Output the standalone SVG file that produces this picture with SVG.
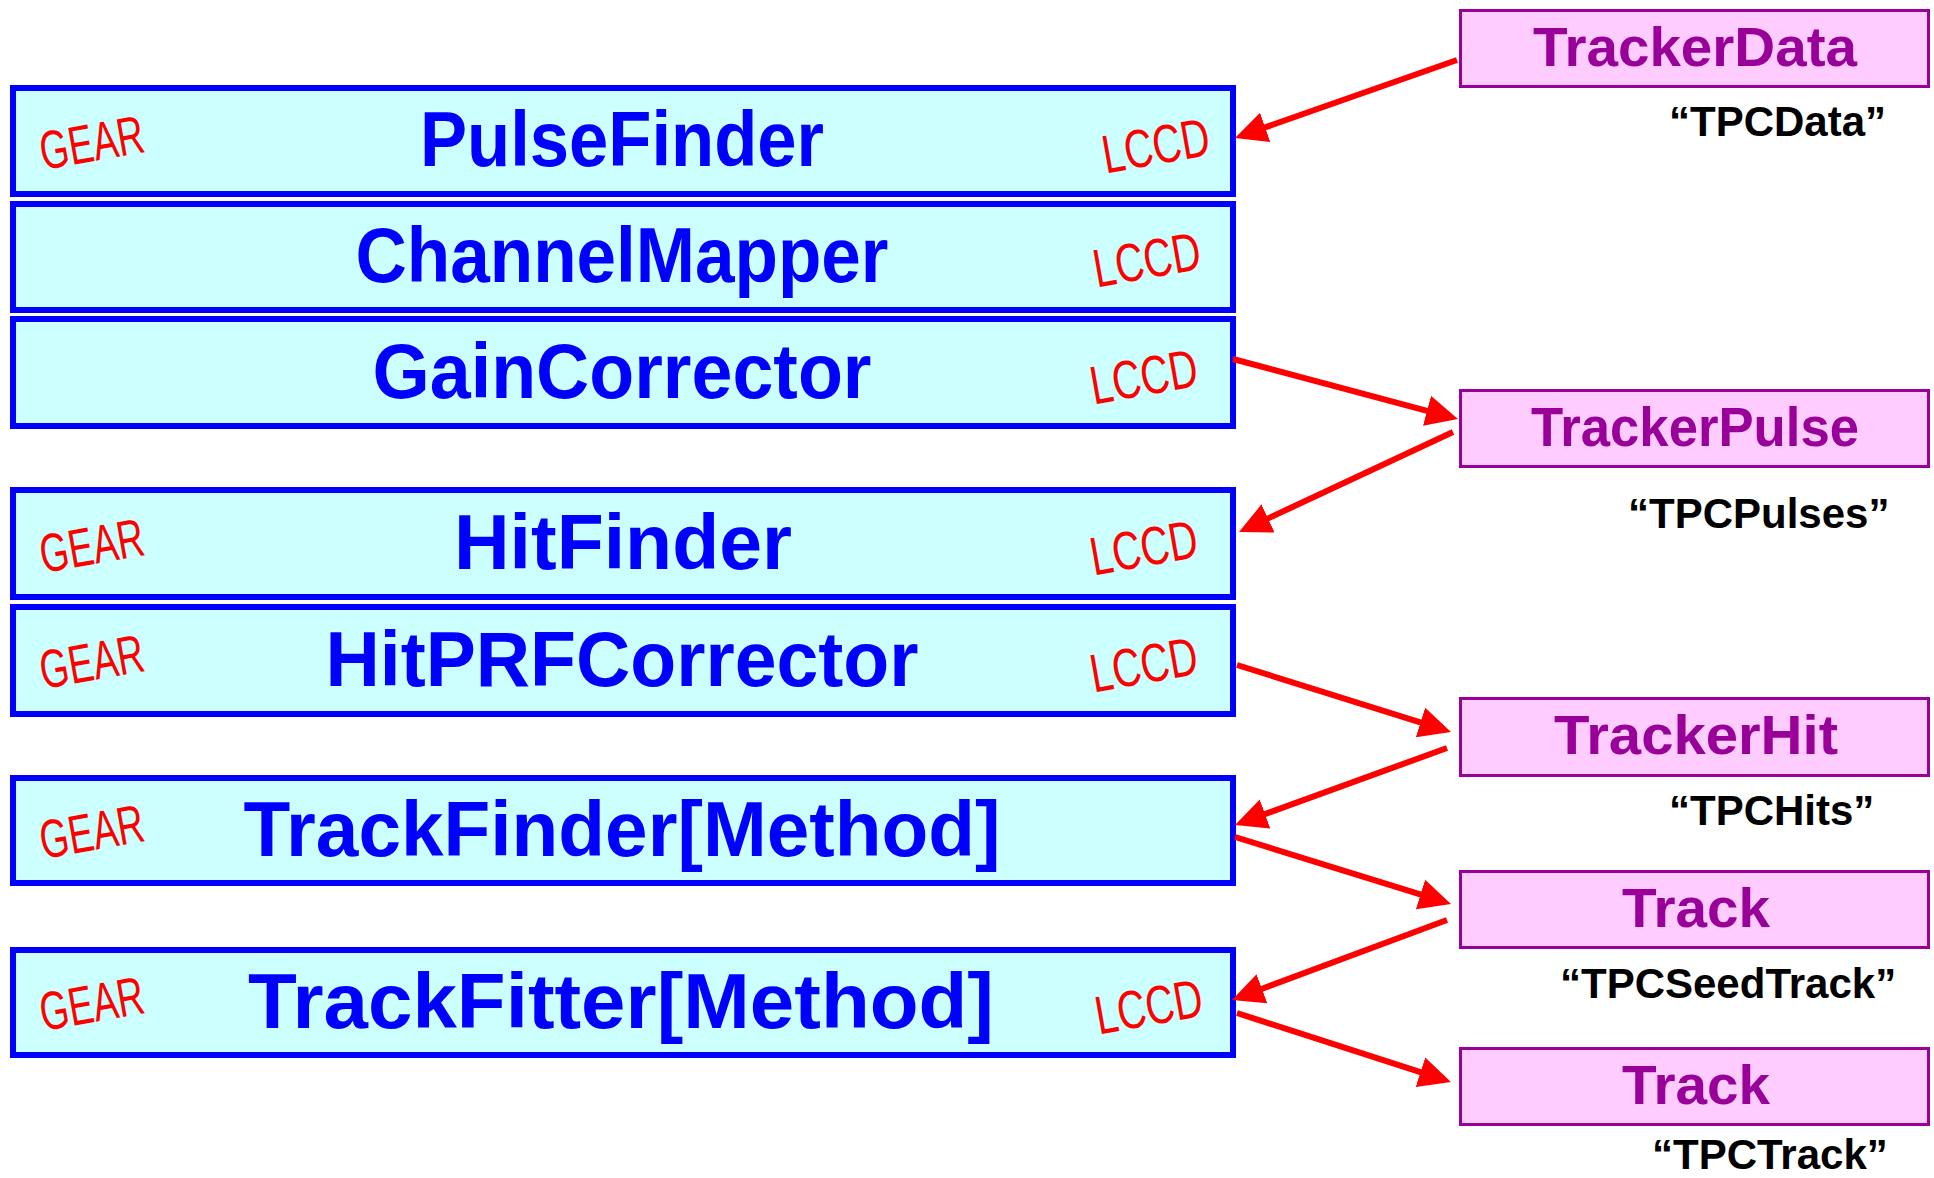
<svg xmlns="http://www.w3.org/2000/svg" width="1934" height="1178" viewBox="0 0 1934 1178">
  <defs>
    <style>
      .proc rect { fill: #CCFFFF; stroke: #0000FF; stroke-width: 6; }
      .proc .title { font-family: "Liberation Sans", Arial, sans-serif; font-weight: bold; font-size: 78px; fill: #0000FF; text-anchor: middle; }
      .tag { font-family: "Liberation Sans", Arial, sans-serif; font-size: 54px; fill: #FF0000; text-anchor: middle; }
      .coll rect { fill: #FFCCFF; stroke: #990099; stroke-width: 3; }
      .coll .title { font-family: "Liberation Sans", Arial, sans-serif; font-weight: bold; font-size: 56px; fill: #990099; text-anchor: middle; }
      .coll .name { font-family: "Liberation Sans", Arial, sans-serif; font-weight: bold; font-size: 42px; fill: #000000; }
      .flow line { stroke: #FF0000; stroke-width: 6; fill: none; marker-end: url(#head); }
    </style>
    <marker id="head" markerUnits="userSpaceOnUse" markerWidth="34" markerHeight="32" refX="4" refY="15.5" orient="auto">
      <path d="M0,0 L32,15.5 L0,31 Z" fill="#FF0000"/>
    </marker>
  </defs>

  <!-- processors -->
  <g id="pulse-finder" class="proc">
    <rect x="13" y="88" width="1220" height="106"/>
    <text class="title" x="622" y="166" textLength="404" lengthAdjust="spacingAndGlyphs">PulseFinder</text>
    <text class="tag" x="95" y="161" textLength="105" lengthAdjust="spacingAndGlyphs" transform="rotate(-10 95 161)">GEAR</text>
    <text class="tag" x="1159" y="164" textLength="108" lengthAdjust="spacingAndGlyphs" transform="rotate(-10 1159 164)">LCCD</text>
  </g>
  <g id="channel-mapper" class="proc">
    <rect x="13" y="204" width="1220" height="106"/>
    <text class="title" x="622" y="282" textLength="533" lengthAdjust="spacingAndGlyphs">ChannelMapper</text>
    <text class="tag" x="1150" y="278" textLength="108" lengthAdjust="spacingAndGlyphs" transform="rotate(-10 1150 278)">LCCD</text>
  </g>
  <g id="gain-corrector" class="proc">
    <rect x="13" y="319" width="1220" height="107"/>
    <text class="title" x="622" y="398" textLength="499" lengthAdjust="spacingAndGlyphs">GainCorrector</text>
    <text class="tag" x="1147" y="395" textLength="108" lengthAdjust="spacingAndGlyphs" transform="rotate(-10 1147 395)">LCCD</text>
  </g>
  <g id="hit-finder" class="proc">
    <rect x="13" y="490" width="1220" height="107"/>
    <text class="title" x="623" y="569" textLength="338" lengthAdjust="spacingAndGlyphs">HitFinder</text>
    <text class="tag" x="95" y="564" textLength="105" lengthAdjust="spacingAndGlyphs" transform="rotate(-10 95 564)">GEAR</text>
    <text class="tag" x="1147" y="566" textLength="108" lengthAdjust="spacingAndGlyphs" transform="rotate(-10 1147 566)">LCCD</text>
  </g>
  <g id="hit-prf-corrector" class="proc">
    <rect x="13" y="607" width="1220" height="107"/>
    <text class="title" x="622" y="686" textLength="593" lengthAdjust="spacingAndGlyphs">HitPRFCorrector</text>
    <text class="tag" x="95" y="680" textLength="105" lengthAdjust="spacingAndGlyphs" transform="rotate(-10 95 680)">GEAR</text>
    <text class="tag" x="1147" y="683" textLength="108" lengthAdjust="spacingAndGlyphs" transform="rotate(-10 1147 683)">LCCD</text>
  </g>
  <g id="track-finder" class="proc">
    <rect x="13" y="778" width="1220" height="105"/>
    <text class="title" x="622" y="856" textLength="757" lengthAdjust="spacingAndGlyphs">TrackFinder[Method]</text>
    <text class="tag" x="95" y="850" textLength="105" lengthAdjust="spacingAndGlyphs" transform="rotate(-10 95 850)">GEAR</text>
  </g>
  <g id="track-fitter" class="proc">
    <rect x="13" y="950" width="1220" height="105"/>
    <text class="title" x="621" y="1028" textLength="746" lengthAdjust="spacingAndGlyphs">TrackFitter[Method]</text>
    <text class="tag" x="95" y="1022" textLength="105" lengthAdjust="spacingAndGlyphs" transform="rotate(-10 95 1022)">GEAR</text>
    <text class="tag" x="1152" y="1025" textLength="108" lengthAdjust="spacingAndGlyphs" transform="rotate(-10 1152 1025)">LCCD</text>
  </g>

  <!-- collections -->
  <g id="tracker-data" class="coll">
    <rect x="1460.5" y="10.5" width="468" height="76"/>
    <text class="title" x="1695" y="66" textLength="324" lengthAdjust="spacingAndGlyphs">TrackerData</text>
    <text class="name" x="1669" y="136">“TPCData”</text>
  </g>
  <g id="tracker-pulse" class="coll">
    <rect x="1460.5" y="390.5" width="468" height="76"/>
    <text class="title" x="1695" y="446" textLength="328" lengthAdjust="spacingAndGlyphs">TrackerPulse</text>
    <text class="name" x="1628" y="528">“TPCPulses”</text>
  </g>
  <g id="tracker-hit" class="coll">
    <rect x="1460.5" y="698.5" width="468" height="77"/>
    <text class="title" x="1696" y="754" textLength="284" lengthAdjust="spacingAndGlyphs">TrackerHit</text>
    <text class="name" x="1669" y="825">“TPCHits”</text>
  </g>
  <g id="seed-track" class="coll">
    <rect x="1460.5" y="871.5" width="468" height="76"/>
    <text class="title" x="1696" y="927" textLength="148" lengthAdjust="spacingAndGlyphs">Track</text>
    <text class="name" x="1560" y="998">“TPCSeedTrack”</text>
  </g>
  <g id="track" class="coll">
    <rect x="1460.5" y="1048.5" width="468" height="76"/>
    <text class="title" x="1696" y="1104" textLength="148" lengthAdjust="spacingAndGlyphs">Track</text>
    <text class="name" x="1652" y="1169">“TPCTrack”</text>
  </g>

  <!-- data flow -->
  <g id="connectors" class="flow">
    <line x1="1457" y1="60" x2="1261.4" y2="128.7"/>
    <line x1="1233" y1="359" x2="1430.9" y2="411.8"/>
    <line x1="1453" y1="432" x2="1264.4" y2="520.1"/>
    <line x1="1237" y1="665" x2="1424.3" y2="723.6"/>
    <line x1="1447" y1="748" x2="1261.3" y2="815.4"/>
    <line x1="1235" y1="837" x2="1424.3" y2="895.7"/>
    <line x1="1447" y1="920" x2="1258.2" y2="990.2"/>
    <line x1="1237" y1="1013" x2="1424.3" y2="1073.4"/>
  </g>
</svg>
